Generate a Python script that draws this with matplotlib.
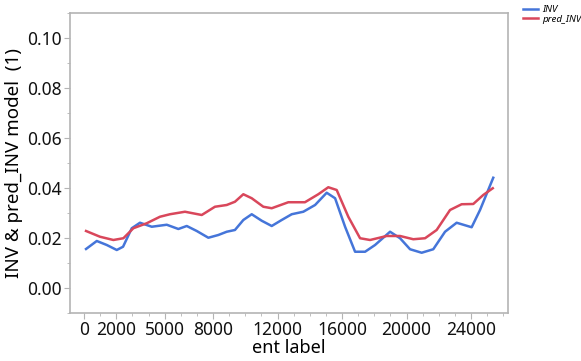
import numpy as np
import matplotlib
matplotlib.use("Agg")
import matplotlib.pyplot as plt
from matplotlib.ticker import FixedLocator, MultipleLocator

plt.rcParams['font.family'] = ['Noto Sans', 'DejaVu Sans']

# values
inv_x = [124, 790, 1410, 2030, 2420, 2960, 3470, 4200, 5130, 5850, 6370, 6990,
         7710, 8330, 8850, 9360, 9880, 10400, 11020, 11640, 12260, 12880, 13600,
         14330, 15050, 15570, 16190, 16810, 17430, 18050, 18980, 19600, 20220,
         20940, 21660, 22390, 23110, 24040, 24560, 25380]
inv_y = [0.0156, 0.0188, 0.0172, 0.0152, 0.0165, 0.0239, 0.0261, 0.0245, 0.0253,
         0.0236, 0.0248, 0.0228, 0.0201, 0.0212, 0.0225, 0.0232, 0.0272, 0.0295,
         0.0269, 0.0248, 0.0272, 0.0295, 0.0305, 0.0332, 0.0381, 0.0359, 0.0245,
         0.0145, 0.0145, 0.0172, 0.0225, 0.0199, 0.0155, 0.0141, 0.0155, 0.0225,
         0.0261, 0.0243, 0.0312, 0.0441]

pred_x = [124, 990, 1820, 2440, 3060, 3890, 4710, 5330, 6260, 7300, 8120, 8850,
          9360, 9880, 10400, 11120, 11640, 12670, 13700, 14530, 15150, 15670,
          16390, 17120, 17740, 18770, 19600, 20420, 21150, 21870, 22700, 23420,
          24140, 24760, 25350]
pred_y = [0.0228, 0.0205, 0.0192, 0.0199, 0.0239, 0.0259, 0.0285, 0.0295, 0.0305,
          0.0292, 0.0325, 0.0332, 0.0345, 0.0375, 0.0359, 0.0325, 0.0319, 0.0343,
          0.0343, 0.0375, 0.0403, 0.0392, 0.0285, 0.0199, 0.0192, 0.0208, 0.0208,
          0.0195, 0.0199, 0.0232, 0.0312, 0.0335, 0.0336, 0.0372, 0.0399]

xtick_vals = [0, 2000, 5000, 8000, 12000, 16000, 20000, 24000]
ytick_vals = [0.00, 0.02, 0.04, 0.06, 0.08, 0.10]

blue = '#4575d9'
red = '#d9475b'
gray = '#b4b4b4'

fig = plt.figure(figsize=(5.81, 3.61), dpi=100)
ax = fig.add_axes([0.1205, 0.133, 0.754, 0.831])

ax.plot(inv_x, inv_y, color=blue, lw=1.8, label='INV', solid_joinstyle='round')
ax.plot(pred_x, pred_y, color=red, lw=1.8, label='pred_INV', solid_joinstyle='round')

ax.set_xlim(-870, 26300)
ax.set_ylim(-0.01, 0.11)

ax.xaxis.set_major_locator(FixedLocator(xtick_vals))
ax.set_xticklabels([str(v) for v in xtick_vals])
ax.xaxis.set_minor_locator(MultipleLocator(1000))
ax.set_yticks(ytick_vals)
ax.set_yticklabels([f"{v:.2f}" for v in ytick_vals])
ax.yaxis.set_minor_locator(MultipleLocator(0.01))

for s in ax.spines.values():
    s.set_color(gray)
    s.set_linewidth(1.2)

ax.tick_params(which='major', length=4, color=gray, labelsize=12.5, labelcolor='#111111', pad=2)
ax.tick_params(which='minor', length=2.5, color=gray)

ax.set_xlabel('ent label', fontsize=13, labelpad=0)
ax.set_ylabel('INV & pred_INV model  (1)', fontsize=13.5, labelpad=3)

leg = fig.legend(loc='upper left', bbox_to_anchor=(0.885, 1.01), frameon=False,
                 handlelength=1.6, handletextpad=0.4, labelspacing=0.05,
                 prop={'size': 7, 'style': 'italic', 'weight': 'bold'})

fig.savefig('out.png', dpi=100)
